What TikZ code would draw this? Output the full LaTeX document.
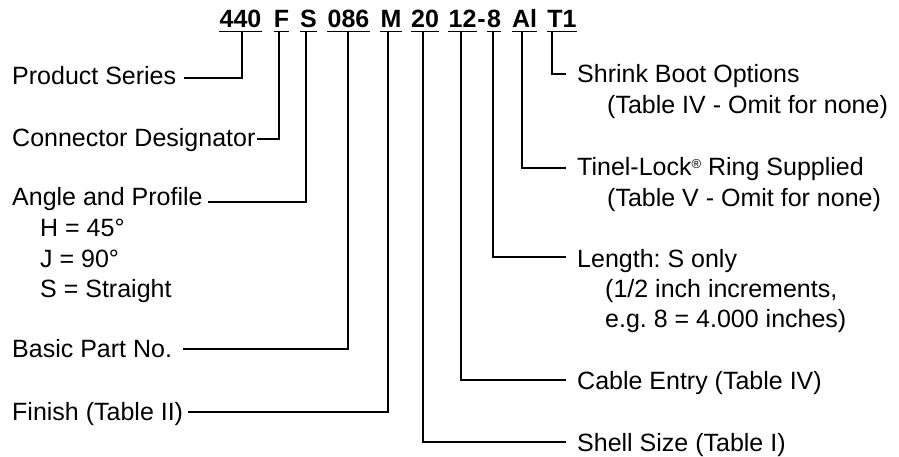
\documentclass[tikz,border=0pt]{standalone}
\usepackage{fontspec}
\setmainfont{Liberation Sans}
\frenchspacing
\begin{document}
\begin{tikzpicture}[x=1pt,y=-1pt,
  lbl/.style={anchor=base west, inner sep=0pt, font=\fontsize{25}{30}\selectfont},
  code/.style={anchor=base, inner sep=0pt, font=\fontsize{25}{30}\selectfont\bfseries},
  conn/.style={line width=1.9pt, line join=miter},
  uline/.style={line width=1.9pt}]
\useasboundingbox (0,0) rectangle (899,457);

% part-number codes
\node[code] (c440) at (240.5,28) {440};
\node[code] (cF)   at (281.5,28) {F};
\node[code] (cS)   at (308.5,28) {S};
\node[code] (c086) at (348.5,28) {086};
\node[code] (cM)   at (391,28)   {M};
\node[code] (c20)  at (425,28)   {20};
\node[code] (c12)  at (462.5,28) {12};
\node[code] (cdash) at (481.5,28) {-};
\node[code] (c8)   at (494,28)   {8};
\node[code] (cAl)  at (524.5,28) {Al};
\node[code] (cT1)  at (562,28)   {T1};

\foreach \n in {c440,cF,cS,c086,cM,c20,c12,c8,cAl,cT1}
  \draw[uline] ([yshift=-3.5pt]\n.base west) -- ([yshift=-3.5pt]\n.base east);

% connector tops (below the underlines)
\coordinate (k440) at (242,31);
\coordinate (kF)   at (279,31);
\coordinate (kS)   at (306,31);
\coordinate (k086) at (348,31);
\coordinate (kM)   at (388,31);
\coordinate (k20)  at (423,31);
\coordinate (k12)  at (461,31);
\coordinate (k8)   at (493,31);
\coordinate (kAl)  at (522,31);
\coordinate (kT1)  at (552,31);

% left labels
\node[lbl] (ps)  at (12,85)  {Product Series};
\node[lbl] (cd)  at (12,147) {Connector Designator};
\node[lbl] (ap)  at (12,206) {Angle and Profile};
\node[lbl] (ap1) at (40,236) {H = 45°};
\node[lbl] (ap2) at (40,267) {J = 90°};
\node[lbl] (ap3) at (40,297) {S = Straight};
\node[lbl] (bp)  at (12,357) {Basic Part No.};
\node[lbl] (fi)  at (12,420) {Finish (Table II)};

% right labels
\node[lbl] (sb)  at (577,83)  {Shrink Boot Options};
\node[lbl] (sb1) at (607,114) {(Table IV - Omit for none)};
\node[lbl] (tl)  at (577,176) {Tinel-Lock\raisebox{7pt}{\fontsize{13}{13}\selectfont ®} Ring Supplied};
\node[lbl] (tl1) at (607,207) {(Table V - Omit for none)};
\node[lbl] (le)  at (577,267) {Length: S only};
\node[lbl] (le1) at (605,297) {(1/2 inch increments,};
\node[lbl] (le2) at (605,327) {e.g. 8 = 4.000 inches)};
\node[lbl] (ce)  at (577,389) {Cable Entry (Table IV)};
\node[lbl] (ss)  at (577,451) {Shell Size (Table I)};

% connector ends beside the labels
\coordinate (eps) at (184,78);
\coordinate (ecd) at (257,139);
\coordinate (eap) at (208,202);
\coordinate (ebp) at (183,349);
\coordinate (efi) at (188,412);
\coordinate (ess) at (566,442);
\coordinate (ece) at (566,380);
\coordinate (ele) at (566,257);
\coordinate (etl) at (566,168);
\coordinate (esb) at (566,74);

\draw[conn] (k440) |- (eps);
\draw[conn] (kF)   |- (ecd);
\draw[conn] (kS)   |- (eap);
\draw[conn] (k086) |- (ebp);
\draw[conn] (kM)   |- (efi);
\draw[conn] (k20)  |- (ess);
\draw[conn] (k12)  |- (ece);
\draw[conn] (k8)   |- (ele);
\draw[conn] (kAl)  |- (etl);
\draw[conn] (kT1)  |- (esb);
\end{tikzpicture}
\end{document}
